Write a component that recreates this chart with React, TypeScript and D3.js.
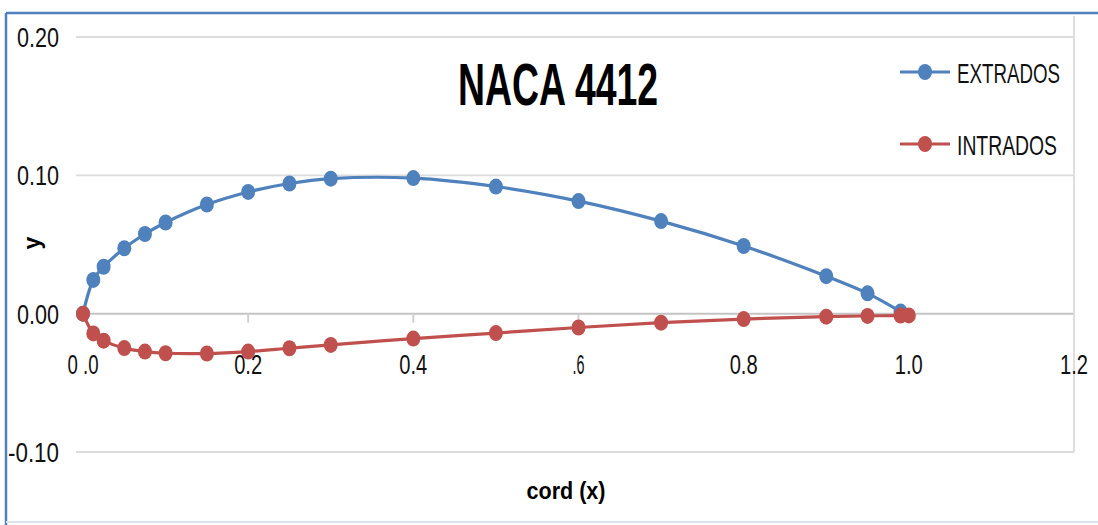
import React from "react";
import * as d3 from "d3";

const xUpper = [0, 0.0125, 0.025, 0.05, 0.075, 0.1, 0.15, 0.2, 0.25, 0.3, 0.4, 0.5, 0.6, 0.7, 0.8, 0.9, 0.95, 0.99];
const yUpper = [0, 0.0244, 0.0339, 0.0473, 0.0576, 0.0659, 0.0789, 0.088, 0.0941, 0.0976, 0.098, 0.0919, 0.0814, 0.0669, 0.0489, 0.0271, 0.0147, 0.0015];
const xLower = [0, 0.0125, 0.025, 0.05, 0.075, 0.1, 0.15, 0.2, 0.25, 0.3, 0.4, 0.5, 0.6, 0.7, 0.8, 0.9, 0.95, 0.99, 1.0];
const yLower = [0, -0.0143, -0.0195, -0.0249, -0.0274, -0.0286, -0.0288, -0.0274, -0.025, -0.0226, -0.018, -0.014, -0.01, -0.0065, -0.0039, -0.0022, -0.0016, -0.0014, -0.0013];

const seriesNames = ["EXTRADOS", "INTRADOS"];
const seriesColors = ["#4F81BD", "#C0504D"];
const xTicks = [0, 0.2, 0.4, 0.6, 0.8, 1.0, 1.2];
const xTickLabels = ["0 .0", "0.2", "0.4", ".6", "0.8", "1.0", "1.2"];
const yTicks = [0.2, 0.1, 0.0, -0.1];
const yTickLabels = ["0.20", "0.10", "0.00", "-0.10"];

const FONT = "'Liberation Sans Narrow', 'Liberation Sans', Arial, sans-serif";

export default function App() {
  const x = d3.scaleLinear().domain([0, 1.2]).range([83, 1074]);
  const y = d3.scaleLinear().domain([-0.1, 0.2]).range([452, 37]);
  const line = d3
    .line<[number, number]>()
    .x((d) => x(d[0]))
    .y((d) => y(d[1]))
    .curve(d3.curveCatmullRom.alpha(0.5));

  const upper: [number, number][] = xUpper.map((v, i) => [v, yUpper[i]]);
  const lower: [number, number][] = xLower.map((v, i) => [v, yLower[i]]);
  const series = [upper, lower];

  const gridLeft = 76;
  const gridRight = x(1.2);

  return (
    <svg
      width={1098}
      height={525}
      style={{ position: "absolute", left: 0, top: 0, background: "#fff" }}
      fontFamily={FONT}
    >
      {/* chart border */}
      <line x1={6} x2={1098} y1={13} y2={13} stroke="#4F81BD" strokeWidth={2.5} />
      <line x1={6} x2={6} y1={13} y2={525} stroke="#4F81BD" strokeWidth={2.5} />
      <line x1={6} x2={1098} y1={522} y2={522} stroke="#DCE6F2" strokeWidth={2} />

      {/* gridlines */}
      {yTicks.map((t) => (
        <line
          key={"g" + t}
          x1={gridLeft}
          x2={gridRight}
          y1={y(t)}
          y2={y(t)}
          stroke={t === 0 ? "#C4C4C4" : "#DCDCDC"}
          strokeWidth={t === 0 ? 2 : 1.8}
        />
      ))}
      <line x1={gridRight} x2={gridRight} y1={16} y2={y(-0.1)} stroke="#DCDCDC" strokeWidth={1.8} />

      {/* x ticks */}
      {xTicks.slice(1, 6).map((t) => (
        <line key={"t" + t} x1={x(t)} x2={x(t)} y1={y(0)} y2={y(0) + 9} stroke="#D0D0D0" strokeWidth={2} />
      ))}

      {/* y tick labels */}
      {yTicks.map((t, i) => (
        <text
          key={"yl" + t}
          x={59}
          y={y(t) + 10}
          textAnchor="end"
          fontSize={27}
          fill="#111"
          textLength={yTickLabels[i].length === 5 ? 51 : 42}
          lengthAdjust="spacingAndGlyphs"
        >
          {yTickLabels[i]}
        </text>
      ))}

      {/* x tick labels */}
      {xTicks.map((t, i) => {
        const lbl = xTickLabels[i];
        const w = lbl.length === 2 ? 12 : lbl.length === 4 ? 31 : 28;
        return (
          <text
            key={"xl" + t}
            x={x(t) - w / 2}
            y={374}
            fontSize={28}
            fill="#111"
            textLength={w}
            lengthAdjust="spacingAndGlyphs"
          >
            {lbl}
          </text>
        );
      })}

      {/* series */}
      {series.map((s, si) => (
        <g key={"s" + si}>
          <path d={line(s) || ""} fill="none" stroke={seriesColors[si]} strokeWidth={3.2} />
          {s.map((d, i) => (
            <ellipse key={i} cx={x(d[0])} cy={y(d[1])} rx={7} ry={8} fill={seriesColors[si]} />
          ))}
        </g>
      ))}

      {/* title */}
      <text
        x={458}
        y={105}
        fontSize={60}
        fontWeight="bold"
        fill="#000"
        textLength={200}
        lengthAdjust="spacingAndGlyphs"
      >
        NACA 4412
      </text>

      {/* legend */}
      {seriesNames.map((n, i) => {
        const ly = i === 0 ? 72 : 144;
        return (
          <g key={"lg" + i}>
            <line x1={900} x2={950} y1={ly} y2={ly} stroke={seriesColors[i]} strokeWidth={3.2} />
            <ellipse cx={925} cy={ly} rx={7} ry={8} fill={seriesColors[i]} />
            <text
              x={957}
              y={ly + 11}
              fontSize={28}
              fill="#111"
              textLength={i === 0 ? 103 : 100}
              lengthAdjust="spacingAndGlyphs"
            >
              {n}
            </text>
          </g>
        );
      })}

      {/* axis titles */}
      <text
        x={566}
        y={499}
        textAnchor="middle"
        fontSize={23}
        fontWeight="bold"
        fill="#000"
        textLength={79}
        lengthAdjust="spacingAndGlyphs"
      >
        cord (x)
      </text>
      <text
        transform="translate(40,243) rotate(-90)"
        textAnchor="middle"
        fontSize={23}
        fontWeight="bold"
        fill="#000"
      >
        y
      </text>
    </svg>
  );
}
